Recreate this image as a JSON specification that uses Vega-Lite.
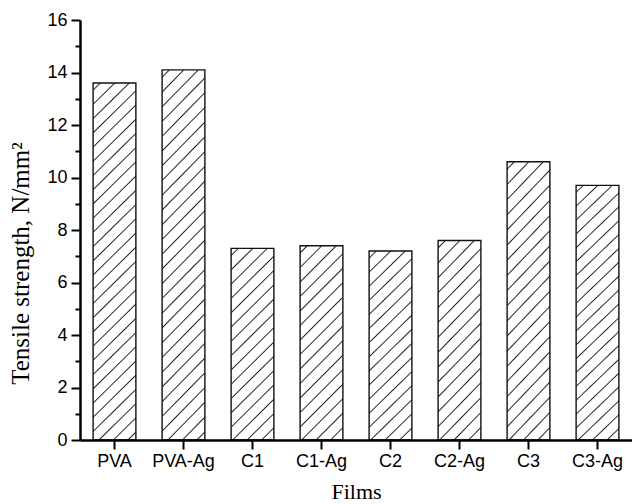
{
  "$schema": "https://vega.github.io/schema/vega-lite/v6.json",
  "width": 552,
  "height": 420,
  "autosize": "none",
  "padding": {"left": 80, "top": 20, "right": 0, "bottom": 64},
  "background": "white",
  "config": {
    "view": {"stroke": null},
    "axis": {"grid": false, "domainColor": "black", "tickColor": "black", "domainWidth": 2.5, "tickWidth": 2, "labelColor": "black", "titleColor": "black", "zindex": 1}
  },
  "data": {
    "values": [
      {"film": "PVA", "v": 13.6},
      {"film": "PVA-Ag", "v": 14.1},
      {"film": "C1", "v": 7.3},
      {"film": "C1-Ag", "v": 7.4},
      {"film": "C2", "v": 7.2},
      {"film": "C2-Ag", "v": 7.6},
      {"film": "C3", "v": 10.6},
      {"film": "C3-Ag", "v": 9.7}
    ]
  },
  "mark": {"type": "bar", "stroke": "#111", "strokeWidth": 1.4},
  "encoding": {
    "x": {
      "field": "film", "type": "nominal", "sort": null,
      "scale": {"type": "band", "paddingInner": 0.38, "paddingOuter": 0.19},
      "axis": {"labelAngle": 0, "tickSize": 9, "labelPadding": 3, "labelFont": "Liberation Sans", "labelFontSize": 18, "zindex": 1,
               "title": "Films", "titleFont": "Liberation Serif", "titleFontSize": 22, "titleFontWeight": "normal",
               "titleX": 276, "titleY": 58, "titleBaseline": "alphabetic", "titleAlign": "center"}
    },
    "y": {
      "field": "v", "type": "quantitative",
      "scale": {"domain": [0, 16], "nice": false},
      "axis": {"values": [0, 1, 2, 3, 4, 5, 6, 7, 8, 9, 10, 11, 12, 13, 14, 15, 16], "zindex": 1,
               "tickSize": {"condition": {"test": "datum.value % 2 === 1", "value": 5}, "value": 9},
               "labelExpr": "datum.value % 2 === 0 ? datum.label : ''",
               "labelPadding": 4, "labelFont": "Liberation Sans", "labelFontSize": 18,
               "title": "Tensile strength,  N/mm²", "titleFont": "Liberation Serif", "titleFontSize": 25, "titleFontWeight": "normal",
               "titleAngle": -90, "titleX": -52, "titleY": 243, "titleBaseline": "alphabetic", "titleAlign": "center"}
    },
    "fill": {
      "condition": [
        {"test": "datum.v > 12", "value": {"gradient": "linear", "x1": 0, "y1": 0, "x2": 0.1342, "y2": 1.1396, "stops": [
{"offset":0.0139,"color":"#fff"},{"offset":0.0172,"color":"#222"},{"offset":0.0205,"color":"#fff"},
{"offset":0.0484,"color":"#fff"},{"offset":0.0517,"color":"#222"},{"offset":0.0550,"color":"#fff"},
{"offset":0.0829,"color":"#fff"},{"offset":0.0862,"color":"#222"},{"offset":0.0895,"color":"#fff"},
{"offset":0.1174,"color":"#fff"},{"offset":0.1207,"color":"#222"},{"offset":0.1240,"color":"#fff"},
{"offset":0.1519,"color":"#fff"},{"offset":0.1552,"color":"#222"},{"offset":0.1585,"color":"#fff"},
{"offset":0.1864,"color":"#fff"},{"offset":0.1897,"color":"#222"},{"offset":0.1930,"color":"#fff"},
{"offset":0.2208,"color":"#fff"},{"offset":0.2241,"color":"#222"},{"offset":0.2274,"color":"#fff"},
{"offset":0.2553,"color":"#fff"},{"offset":0.2586,"color":"#222"},{"offset":0.2619,"color":"#fff"},
{"offset":0.2898,"color":"#fff"},{"offset":0.2931,"color":"#222"},{"offset":0.2964,"color":"#fff"},
{"offset":0.3243,"color":"#fff"},{"offset":0.3276,"color":"#222"},{"offset":0.3309,"color":"#fff"},
{"offset":0.3588,"color":"#fff"},{"offset":0.3621,"color":"#222"},{"offset":0.3654,"color":"#fff"},
{"offset":0.3933,"color":"#fff"},{"offset":0.3966,"color":"#222"},{"offset":0.3999,"color":"#fff"},
{"offset":0.4277,"color":"#fff"},{"offset":0.4310,"color":"#222"},{"offset":0.4343,"color":"#fff"},
{"offset":0.4622,"color":"#fff"},{"offset":0.4655,"color":"#222"},{"offset":0.4688,"color":"#fff"},
{"offset":0.4967,"color":"#fff"},{"offset":0.5000,"color":"#222"},{"offset":0.5033,"color":"#fff"},
{"offset":0.5312,"color":"#fff"},{"offset":0.5345,"color":"#222"},{"offset":0.5378,"color":"#fff"},
{"offset":0.5657,"color":"#fff"},{"offset":0.5690,"color":"#222"},{"offset":0.5723,"color":"#fff"},
{"offset":0.6001,"color":"#fff"},{"offset":0.6034,"color":"#222"},{"offset":0.6067,"color":"#fff"},
{"offset":0.6346,"color":"#fff"},{"offset":0.6379,"color":"#222"},{"offset":0.6412,"color":"#fff"},
{"offset":0.6691,"color":"#fff"},{"offset":0.6724,"color":"#222"},{"offset":0.6757,"color":"#fff"},
{"offset":0.7036,"color":"#fff"},{"offset":0.7069,"color":"#222"},{"offset":0.7102,"color":"#fff"},
{"offset":0.7381,"color":"#fff"},{"offset":0.7414,"color":"#222"},{"offset":0.7447,"color":"#fff"},
{"offset":0.7726,"color":"#fff"},{"offset":0.7759,"color":"#222"},{"offset":0.7792,"color":"#fff"},
{"offset":0.8070,"color":"#fff"},{"offset":0.8103,"color":"#222"},{"offset":0.8136,"color":"#fff"},
{"offset":0.8415,"color":"#fff"},{"offset":0.8448,"color":"#222"},{"offset":0.8481,"color":"#fff"},
{"offset":0.8760,"color":"#fff"},{"offset":0.8793,"color":"#222"},{"offset":0.8826,"color":"#fff"},
{"offset":0.9105,"color":"#fff"},{"offset":0.9138,"color":"#222"},{"offset":0.9171,"color":"#fff"},
{"offset":0.9450,"color":"#fff"},{"offset":0.9483,"color":"#222"},{"offset":0.9516,"color":"#fff"},
{"offset":0.9795,"color":"#fff"},{"offset":0.9828,"color":"#222"},{"offset":0.9861,"color":"#fff"}
        ]}},
        {"test": "datum.v > 9", "value": {"gradient": "linear", "x1": 0, "y1": 0, "x2": 0.2476, "y2": 1.5391, "stops": [
{"offset":0.0139,"color":"#fff"},{"offset":0.0172,"color":"#222"},{"offset":0.0205,"color":"#fff"},
{"offset":0.0484,"color":"#fff"},{"offset":0.0517,"color":"#222"},{"offset":0.0550,"color":"#fff"},
{"offset":0.0829,"color":"#fff"},{"offset":0.0862,"color":"#222"},{"offset":0.0895,"color":"#fff"},
{"offset":0.1174,"color":"#fff"},{"offset":0.1207,"color":"#222"},{"offset":0.1240,"color":"#fff"},
{"offset":0.1519,"color":"#fff"},{"offset":0.1552,"color":"#222"},{"offset":0.1585,"color":"#fff"},
{"offset":0.1864,"color":"#fff"},{"offset":0.1897,"color":"#222"},{"offset":0.1930,"color":"#fff"},
{"offset":0.2208,"color":"#fff"},{"offset":0.2241,"color":"#222"},{"offset":0.2274,"color":"#fff"},
{"offset":0.2553,"color":"#fff"},{"offset":0.2586,"color":"#222"},{"offset":0.2619,"color":"#fff"},
{"offset":0.2898,"color":"#fff"},{"offset":0.2931,"color":"#222"},{"offset":0.2964,"color":"#fff"},
{"offset":0.3243,"color":"#fff"},{"offset":0.3276,"color":"#222"},{"offset":0.3309,"color":"#fff"},
{"offset":0.3588,"color":"#fff"},{"offset":0.3621,"color":"#222"},{"offset":0.3654,"color":"#fff"},
{"offset":0.3933,"color":"#fff"},{"offset":0.3966,"color":"#222"},{"offset":0.3999,"color":"#fff"},
{"offset":0.4277,"color":"#fff"},{"offset":0.4310,"color":"#222"},{"offset":0.4343,"color":"#fff"},
{"offset":0.4622,"color":"#fff"},{"offset":0.4655,"color":"#222"},{"offset":0.4688,"color":"#fff"},
{"offset":0.4967,"color":"#fff"},{"offset":0.5000,"color":"#222"},{"offset":0.5033,"color":"#fff"},
{"offset":0.5312,"color":"#fff"},{"offset":0.5345,"color":"#222"},{"offset":0.5378,"color":"#fff"},
{"offset":0.5657,"color":"#fff"},{"offset":0.5690,"color":"#222"},{"offset":0.5723,"color":"#fff"},
{"offset":0.6001,"color":"#fff"},{"offset":0.6034,"color":"#222"},{"offset":0.6067,"color":"#fff"},
{"offset":0.6346,"color":"#fff"},{"offset":0.6379,"color":"#222"},{"offset":0.6412,"color":"#fff"},
{"offset":0.6691,"color":"#fff"},{"offset":0.6724,"color":"#222"},{"offset":0.6757,"color":"#fff"},
{"offset":0.7036,"color":"#fff"},{"offset":0.7069,"color":"#222"},{"offset":0.7102,"color":"#fff"},
{"offset":0.7381,"color":"#fff"},{"offset":0.7414,"color":"#222"},{"offset":0.7447,"color":"#fff"},
{"offset":0.7726,"color":"#fff"},{"offset":0.7759,"color":"#222"},{"offset":0.7792,"color":"#fff"},
{"offset":0.8070,"color":"#fff"},{"offset":0.8103,"color":"#222"},{"offset":0.8136,"color":"#fff"},
{"offset":0.8415,"color":"#fff"},{"offset":0.8448,"color":"#222"},{"offset":0.8481,"color":"#fff"},
{"offset":0.8760,"color":"#fff"},{"offset":0.8793,"color":"#222"},{"offset":0.8826,"color":"#fff"},
{"offset":0.9105,"color":"#fff"},{"offset":0.9138,"color":"#222"},{"offset":0.9171,"color":"#fff"},
{"offset":0.9450,"color":"#fff"},{"offset":0.9483,"color":"#222"},{"offset":0.9516,"color":"#fff"},
{"offset":0.9795,"color":"#fff"},{"offset":0.9828,"color":"#222"},{"offset":0.9861,"color":"#fff"}
        ]}}
      ],
      "value": {"gradient": "linear", "x1": 0, "y1": 0, "x2": 0.4555, "y2": 2.0645, "stops": [
{"offset":0.0139,"color":"#fff"},{"offset":0.0172,"color":"#222"},{"offset":0.0205,"color":"#fff"},
{"offset":0.0484,"color":"#fff"},{"offset":0.0517,"color":"#222"},{"offset":0.0550,"color":"#fff"},
{"offset":0.0829,"color":"#fff"},{"offset":0.0862,"color":"#222"},{"offset":0.0895,"color":"#fff"},
{"offset":0.1174,"color":"#fff"},{"offset":0.1207,"color":"#222"},{"offset":0.1240,"color":"#fff"},
{"offset":0.1519,"color":"#fff"},{"offset":0.1552,"color":"#222"},{"offset":0.1585,"color":"#fff"},
{"offset":0.1864,"color":"#fff"},{"offset":0.1897,"color":"#222"},{"offset":0.1930,"color":"#fff"},
{"offset":0.2208,"color":"#fff"},{"offset":0.2241,"color":"#222"},{"offset":0.2274,"color":"#fff"},
{"offset":0.2553,"color":"#fff"},{"offset":0.2586,"color":"#222"},{"offset":0.2619,"color":"#fff"},
{"offset":0.2898,"color":"#fff"},{"offset":0.2931,"color":"#222"},{"offset":0.2964,"color":"#fff"},
{"offset":0.3243,"color":"#fff"},{"offset":0.3276,"color":"#222"},{"offset":0.3309,"color":"#fff"},
{"offset":0.3588,"color":"#fff"},{"offset":0.3621,"color":"#222"},{"offset":0.3654,"color":"#fff"},
{"offset":0.3933,"color":"#fff"},{"offset":0.3966,"color":"#222"},{"offset":0.3999,"color":"#fff"},
{"offset":0.4277,"color":"#fff"},{"offset":0.4310,"color":"#222"},{"offset":0.4343,"color":"#fff"},
{"offset":0.4622,"color":"#fff"},{"offset":0.4655,"color":"#222"},{"offset":0.4688,"color":"#fff"},
{"offset":0.4967,"color":"#fff"},{"offset":0.5000,"color":"#222"},{"offset":0.5033,"color":"#fff"},
{"offset":0.5312,"color":"#fff"},{"offset":0.5345,"color":"#222"},{"offset":0.5378,"color":"#fff"},
{"offset":0.5657,"color":"#fff"},{"offset":0.5690,"color":"#222"},{"offset":0.5723,"color":"#fff"},
{"offset":0.6001,"color":"#fff"},{"offset":0.6034,"color":"#222"},{"offset":0.6067,"color":"#fff"},
{"offset":0.6346,"color":"#fff"},{"offset":0.6379,"color":"#222"},{"offset":0.6412,"color":"#fff"},
{"offset":0.6691,"color":"#fff"},{"offset":0.6724,"color":"#222"},{"offset":0.6757,"color":"#fff"},
{"offset":0.7036,"color":"#fff"},{"offset":0.7069,"color":"#222"},{"offset":0.7102,"color":"#fff"}
      ]}
    }
  }
}
